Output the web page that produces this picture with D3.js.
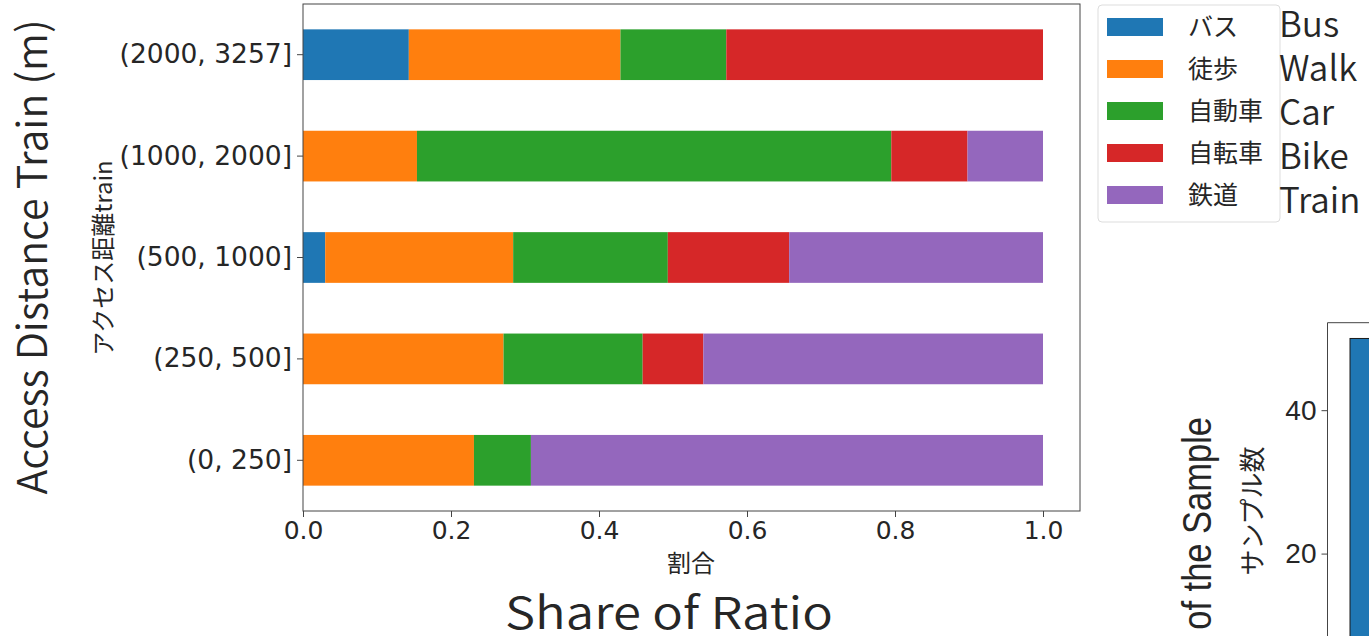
<!DOCTYPE html>
<html>
<head>
<meta charset="utf-8">
<script src="https://cdn.jsdelivr.net/npm/d3@7"></script>
<style>
  body { margin: 0; background: #fff; }
  text { fill: #262626; }
</style>
</head>
<body>
<script>
// access distance classes (top to bottom)
var distances = ["(2000, 3257]", "(1000, 2000]", "(500, 1000]", "(250, 500]", "(0, 250]"];
// travel modes, legend order
var modes = ["バス", "徒歩", "自動車", "自転車", "鉄道"];
var modesEn = ["Bus", "Walk", "Car", "Bike", "Train"];
var colors = ["#1f77b4", "#ff7f0e", "#2ca02c", "#d62728", "#9467bd"];

// share of each mode per distance class (same order as distances)
var bus   = [0.143, 0.000, 0.030, 0.000, 0.000];
var walk  = [0.286, 0.154, 0.254, 0.271, 0.231];
var car   = [0.143, 0.641, 0.209, 0.188, 0.077];
var bike  = [0.428, 0.103, 0.164, 0.082, 0.000];
var train = [0.000, 0.102, 0.343, 0.459, 0.692];

var xTicks = [0, 0.2, 0.4, 0.6, 0.8, 1.0];

// second (cut off) chart: sample count
var sampleCats = ["A"];
var sampleCounts = [50];
var sampleTicks = [20, 40];

const w = 1369;
const h = 636;

var svg = d3.select("body").append("svg")
            .attr("width", w)
            .attr("height", h);

// build table for stacking
var table = distances.map(function(d, i) {
  return {dist: d, "バス": bus[i], "徒歩": walk[i], "自動車": car[i], "自転車": bike[i], "鉄道": train[i]};
});
var stacked = d3.stack().keys(modes)(table);

var xScale = d3.scaleLinear().domain([0, 1.05]).range([303, 1080]);
var yScale = d3.scaleBand().domain(distances).range([4, 511])
               .paddingInner(0.5).paddingOuter(0.25);

// bars
svg.append("g").selectAll("g")
   .data(stacked)
   .enter()
   .append("g")
   .attr("fill", function(d, i) { return colors[i]; })
   .selectAll("rect")
   .data(function(d) { return d; })
   .enter()
   .append("rect")
   .attr("x", function(d) { return xScale(d[0]); })
   .attr("width", function(d) { return xScale(d[1]) - xScale(d[0]); })
   .attr("y", function(d) { return yScale(d.data.dist); })
   .attr("height", yScale.bandwidth());

// frame
svg.append("rect")
   .attr("x", 303).attr("y", 4)
   .attr("width", 1080 - 303).attr("height", 511 - 4)
   .attr("fill", "none")
   .attr("stroke", "#444")
   .attr("stroke-width", 1);

// x axis
var xAxis = svg.append("g")
   .attr("transform", "translate(0,511)")
   .call(d3.axisBottom(xScale).tickValues(xTicks).tickFormat(d3.format(".1f")).tickSize(6).tickPadding(4));
xAxis.select(".domain").remove();
xAxis.selectAll("line").attr("stroke", "#444");
xAxis.selectAll("text")
     .style("font-family", "DejaVu Sans").style("font-size", "25px").attr("fill", "#262626");

// y axis
var yAxis = svg.append("g")
   .attr("transform", "translate(303,0)")
   .call(d3.axisLeft(yScale).tickSize(6).tickPadding(5));
yAxis.select(".domain").remove();
yAxis.selectAll("line").attr("stroke", "#444");
yAxis.selectAll("text")
     .style("font-family", "DejaVu Sans").style("font-size", "26.5px").attr("fill", "#262626");

// axis labels
svg.append("text")
   .attr("x", 691).attr("y", 572)
   .style("text-anchor", "middle")
   .style("font-family", "Noto Sans CJK JP").style("font-size", "24px")
   .text("割合");

svg.append("text")
   .attr("transform", "translate(112,258) rotate(-90)")
   .style("text-anchor", "middle")
   .style("font-family", "Noto Sans CJK JP").style("font-size", "24px")
   .text("アクセス距離train");

// big english labels
svg.append("text")
   .attr("x", 669).attr("y", 629)
   .style("text-anchor", "middle")
   .style("font-family", "Noto Sans CJK JP").style("font-size", "44px")
   .style("font-weight", 350)
   .attr("fill", "#000")
   .attr("textLength", 328).attr("lengthAdjust", "spacingAndGlyphs")
   .text("Share of Ratio");

svg.append("text")
   .attr("transform", "translate(47,257) rotate(-90)")
   .style("text-anchor", "middle")
   .style("font-family", "Noto Sans CJK JP").style("font-size", "41px")
   .style("font-weight", 350)
   .attr("fill", "#000")
   .attr("textLength", 475).attr("lengthAdjust", "spacingAndGlyphs")
   .text("Access Distance Train (m)");

// legend
var legend = svg.append("g");
legend.append("rect")
      .attr("x", 1098).attr("y", 5)
      .attr("width", 182).attr("height", 217)
      .attr("rx", 4)
      .attr("fill", "#fff")
      .attr("stroke", "#ddd");
var rowY = d3.scaleLinear().domain([0, 4]).range([27, 195]);
modes.forEach(function(m, i) {
  legend.append("rect")
        .attr("x", 1107).attr("y", rowY(i) - 9)
        .attr("width", 56).attr("height", 18)
        .attr("fill", colors[i]);
  legend.append("text")
        .attr("x", 1188).attr("y", rowY(i) + 9)
        .style("font-family", "Noto Sans CJK JP").style("font-size", "25px")
        .text(m);
  legend.append("text")
        .attr("x", 1279).attr("y", rowY(i) + 10 + i * 2)
        .style("font-family", "Noto Sans CJK JP").style("font-size", "35px")
        .style("font-weight", 350)
        .attr("fill", "#000")
        .text(modesEn[i]);
});

// second chart, cut off at the right edge
var x2 = d3.scaleBand().domain(sampleCats).range([1327.5, 1552.5]).paddingInner(0.2).paddingOuter(0.1);
var y2 = d3.scaleLinear().domain([0, 52.2]).range([697, 322.7]);

svg.append("g").selectAll("rect")
   .data(sampleCounts)
   .enter()
   .append("rect")
   .attr("x", function(d, i) { return x2(sampleCats[i]); })
   .attr("width", x2.bandwidth())
   .attr("y", function(d) { return y2(d); })
   .attr("height", function(d) { return y2(0) - y2(d); })
   .attr("fill", "#1f77b4")
   .attr("stroke", "#1a1a1a")
   .attr("stroke-width", 1);

svg.append("path")
   .attr("d", "M1327.5,640V322.7H1380")
   .attr("fill", "none")
   .attr("stroke", "#444");

var yAxis2 = svg.append("g")
   .attr("transform", "translate(1327.5,0)")
   .call(d3.axisLeft(y2).tickValues(sampleTicks).tickSize(6).tickPadding(5));
yAxis2.select(".domain").remove();
yAxis2.selectAll("line").attr("stroke", "#444");
yAxis2.selectAll("text")
      .style("font-family", "Liberation Sans").style("font-size", "28px").attr("fill", "#262626");

svg.append("text")
   .attr("transform", "translate(1262,511) rotate(-90)")
   .style("text-anchor", "middle")
   .style("font-family", "Noto Sans CJK JP").style("font-size", "26px")
   .text("サンプル数");

svg.append("text")
   .attr("transform", "translate(1211,417) rotate(-90)")
   .style("text-anchor", "end")
   .style("font-family", "Liberation Sans").style("font-size", "40px")
   .attr("fill", "#000")
   .attr("textLength", 345).attr("lengthAdjust", "spacingAndGlyphs")
   .text("Number of the Sample");
</script>
</body>
</html>
